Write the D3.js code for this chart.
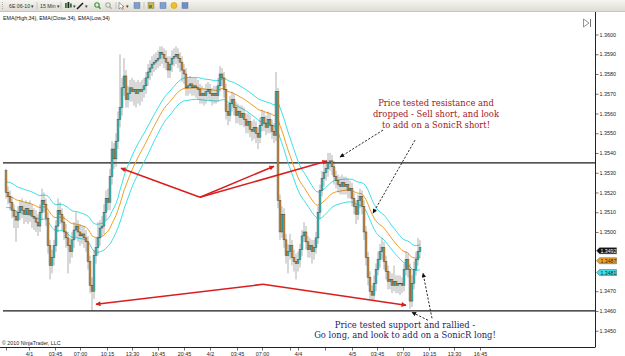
<!DOCTYPE html>
<html>
<head>
<meta charset="utf-8">
<script src="https://cdnjs.cloudflare.com/ajax/libs/d3/7.8.5/d3.min.js"></script>
<style>
    body { margin: 0; background: #fff; }
    svg { display: block; font-family: "Liberation Sans", Arial, sans-serif; }
</style>
</head>
<body>
<svg id="chart" width="625" height="356"></svg>
<script>

// 6E 06-10, 15 min bars. open of bar i is the close of bar i-1
var firstOpen = 1.3531;

var closes = [
    1.3520, 1.3518, 1.3515, 1.3511, 1.3508, 1.3506, 1.3510, 1.3513, 1.3511, 1.3509,
    1.3512, 1.3509, 1.3511, 1.3508, 1.3507, 1.3505, 1.3503, 1.3510, 1.3516, 1.3514,
    1.3507, 1.3493, 1.3483, 1.3487, 1.3493, 1.3503, 1.3511, 1.3509, 1.3505, 1.3500,
    1.3497, 1.3493, 1.3490, 1.3496, 1.3501, 1.3503, 1.3500, 1.3498, 1.3499, 1.3497,
    1.3495, 1.3485, 1.3473, 1.3470, 1.3488, 1.3492, 1.3497, 1.3502, 1.3503, 1.3510,
    1.3517, 1.3515, 1.3528, 1.3542, 1.3537, 1.3546, 1.3557, 1.3563, 1.3573, 1.3579,
    1.3567, 1.3570, 1.3573, 1.3571, 1.3572, 1.3570, 1.3572, 1.3571, 1.3572, 1.3574,
    1.3578, 1.3581, 1.3583, 1.3585, 1.3586, 1.3587, 1.3588, 1.3591, 1.3590, 1.3588,
    1.3586, 1.3582, 1.3585, 1.3588, 1.3589, 1.3590, 1.3588, 1.3586, 1.3582, 1.3580,
    1.3573, 1.3574, 1.3575, 1.3573, 1.3574, 1.3573, 1.3572, 1.3569, 1.3570, 1.3569,
    1.3571, 1.3572, 1.3570, 1.3569, 1.3570, 1.3569, 1.3574, 1.3580, 1.3578, 1.3572,
    1.3561, 1.3559, 1.3565, 1.3567, 1.3563, 1.3559, 1.3561, 1.3558, 1.3560, 1.3557,
    1.3554, 1.3556, 1.3552, 1.3551, 1.3553, 1.3550, 1.3548, 1.3554, 1.3558, 1.3555,
    1.3553, 1.3557, 1.3554, 1.3551, 1.3549, 1.3571, 1.3516, 1.3500, 1.3509, 1.3496,
    1.3488, 1.3490, 1.3493, 1.3487, 1.3485, 1.3484, 1.3486, 1.3491, 1.3498, 1.3500,
    1.3495, 1.3491, 1.3493, 1.3490, 1.3492, 1.3497, 1.3510, 1.3521, 1.3527, 1.3530,
    1.3532, 1.3535, 1.3536, 1.3533, 1.3528, 1.3526, 1.3524, 1.3523, 1.3525, 1.3523,
    1.3524, 1.3521, 1.3522, 1.3517, 1.3513, 1.3509, 1.3516, 1.3518, 1.3513, 1.3500,
    1.3487, 1.3477, 1.3470, 1.3468, 1.3474, 1.3481, 1.3486, 1.3490, 1.3492, 1.3485,
    1.3480, 1.3475, 1.3476, 1.3473, 1.3475, 1.3473, 1.3474, 1.3474, 1.3473, 1.3481,
    1.3486, 1.3481, 1.3465, 1.3474, 1.3481, 1.3486, 1.3490, 1.3492
];

var highs = [
    1.3532, 1.3523, 1.3521, 1.3518, 1.3514, 1.3511, 1.3513, 1.3516, 1.3517, 1.3515,
    1.3516, 1.3515, 1.3516, 1.3514, 1.3512, 1.3511, 1.3509, 1.3514, 1.3522, 1.3520,
    1.3517, 1.3510, 1.3496, 1.3491, 1.3496, 1.3506, 1.3517, 1.3515, 1.3512, 1.3508,
    1.3504, 1.3500, 1.3497, 1.3500, 1.3505, 1.3510, 1.3506, 1.3504, 1.3503, 1.3503,
    1.3501, 1.3498, 1.3488, 1.3477, 1.3491, 1.3497, 1.3505, 1.3506, 1.3508, 1.3514,
    1.3521, 1.3522, 1.3532, 1.3546, 1.3545, 1.3550, 1.3561, 1.3590, 1.3578, 1.3588,
    1.3582, 1.3574, 1.3577, 1.3578, 1.3577, 1.3576, 1.3577, 1.3576, 1.3577, 1.3578,
    1.3581, 1.3585, 1.3587, 1.3589, 1.3590, 1.3591, 1.3592, 1.3594, 1.3594, 1.3593,
    1.3592, 1.3589, 1.3589, 1.3592, 1.3593, 1.3594, 1.3593, 1.3591, 1.3589, 1.3585,
    1.3583, 1.3578, 1.3579, 1.3578, 1.3578, 1.3578, 1.3577, 1.3575, 1.3574, 1.3573,
    1.3575, 1.3576, 1.3575, 1.3573, 1.3574, 1.3574, 1.3578, 1.3584, 1.3583, 1.3581,
    1.3575, 1.3565, 1.3569, 1.3571, 1.3570, 1.3566, 1.3565, 1.3564, 1.3564, 1.3563,
    1.3560, 1.3560, 1.3559, 1.3556, 1.3557, 1.3556, 1.3553, 1.3558, 1.3562, 1.3561,
    1.3559, 1.3561, 1.3560, 1.3557, 1.3555, 1.3581, 1.3573, 1.3519, 1.3513, 1.3512,
    1.3499, 1.3494, 1.3499, 1.3496, 1.3491, 1.3489, 1.3490, 1.3494, 1.3501, 1.3505,
    1.3503, 1.3498, 1.3497, 1.3496, 1.3496, 1.3500, 1.3513, 1.3524, 1.3531, 1.3534,
    1.3536, 1.3540, 1.3540, 1.3539, 1.3536, 1.3531, 1.3529, 1.3528, 1.3529, 1.3528,
    1.3528, 1.3527, 1.3526, 1.3525, 1.3520, 1.3516, 1.3519, 1.3522, 1.3521, 1.3516,
    1.3503, 1.3490, 1.3480, 1.3473, 1.3478, 1.3484, 1.3490, 1.3494, 1.3497, 1.3495,
    1.3488, 1.3483, 1.3480, 1.3479, 1.3483, 1.3478, 1.3478, 1.3478, 1.3477, 1.3484,
    1.3490, 1.3489, 1.3484, 1.3478, 1.3485, 1.3490, 1.3497, 1.3496
];

var lows = [
    1.3517, 1.3514, 1.3511, 1.3507, 1.3502, 1.3495, 1.3502, 1.3506, 1.3507, 1.3504,
    1.3505, 1.3504, 1.3505, 1.3502, 1.3501, 1.3500, 1.3498, 1.3500, 1.3506, 1.3510,
    1.3503, 1.3489, 1.3476, 1.3479, 1.3483, 1.3490, 1.3500, 1.3504, 1.3501, 1.3496,
    1.3492, 1.3479, 1.3484, 1.3487, 1.3492, 1.3497, 1.3495, 1.3493, 1.3494, 1.3492,
    1.3490, 1.3481, 1.3469, 1.3460, 1.3466, 1.3484, 1.3488, 1.3493, 1.3498, 1.3499,
    1.3506, 1.3511, 1.3511, 1.3524, 1.3532, 1.3533, 1.3542, 1.3553, 1.3559, 1.3569,
    1.3563, 1.3563, 1.3566, 1.3566, 1.3564, 1.3563, 1.3565, 1.3564, 1.3566, 1.3568,
    1.3570, 1.3574, 1.3577, 1.3579, 1.3581, 1.3582, 1.3583, 1.3584, 1.3585, 1.3583,
    1.3582, 1.3578, 1.3578, 1.3581, 1.3584, 1.3585, 1.3583, 1.3581, 1.3576, 1.3575,
    1.3569, 1.3569, 1.3570, 1.3569, 1.3569, 1.3568, 1.3567, 1.3565, 1.3565, 1.3564,
    1.3565, 1.3567, 1.3566, 1.3564, 1.3565, 1.3565, 1.3566, 1.3571, 1.3574, 1.3568,
    1.3557, 1.3554, 1.3556, 1.3561, 1.3559, 1.3555, 1.3555, 1.3554, 1.3554, 1.3553,
    1.3550, 1.3550, 1.3548, 1.3546, 1.3547, 1.3545, 1.3542, 1.3545, 1.3551, 1.3551,
    1.3549, 1.3550, 1.3550, 1.3547, 1.3545, 1.3546, 1.3512, 1.3496, 1.3497, 1.3492,
    1.3484, 1.3479, 1.3486, 1.3483, 1.3480, 1.3476, 1.3480, 1.3482, 1.3488, 1.3495,
    1.3491, 1.3487, 1.3487, 1.3484, 1.3486, 1.3489, 1.3494, 1.3507, 1.3518, 1.3523,
    1.3526, 1.3528, 1.3531, 1.3529, 1.3524, 1.3522, 1.3520, 1.3519, 1.3519, 1.3519,
    1.3519, 1.3517, 1.3517, 1.3513, 1.3509, 1.3504, 1.3506, 1.3512, 1.3509, 1.3496,
    1.3483, 1.3473, 1.3466, 1.3465, 1.3465, 1.3470, 1.3478, 1.3482, 1.3486, 1.3481,
    1.3476, 1.3471, 1.3471, 1.3469, 1.3470, 1.3469, 1.3469, 1.3468, 1.3469, 1.3470,
    1.3478, 1.3477, 1.3461, 1.3462, 1.3471, 1.3478, 1.3483, 1.3487
];

// EMA(34) values just before the first visible bar
var emaPeriod = 34;
var emaHighStart = 1.3525;
var emaCloseStart = 1.3518;
var emaLowStart = 1.3512;

// 1.3480 and 1.3490 sit under the price markers
var priceTicks = [1.3450, 1.3460, 1.3470, 1.3500, 1.3510, 1.3520,
    1.3530, 1.3540, 1.3550, 1.3560, 1.3570, 1.3580, 1.3590, 1.3600];

// bar index of each time tick (ticks past the last bar are projected)
var timeTickBars = [0, 11.5, 24.5, 37, 50.5, 63, 76, 89, 102, 115.5, 128, 142, 146, 159.5,
    173, 185.5, 198.5, 211.5, 224, 237];
var timeTickLabels = ["", "4/1", "03:45", "07:00", "10:15", "13:30", "16:45", "20:45", "4/2",
    "03:45", "07:00", "", "4/4", "", "4/5", "03:45", "07:00", "10:15", "13:30", "16:45"];

var resistanceLevel = 1.3535;
var supportLevel = 1.3460;

// annotation arrows, [bar, price] -> [bar, price]
var redArrows = [
    [[97, 1.35176], [57.5, 1.35323]],
    [[97, 1.35176], [134, 1.35333]],
    [[97, 1.35176], [160.5, 1.35359]],
    [[128.5, 1.34735], [45, 1.34634]],
    [[128.5, 1.34735], [200, 1.34629]]
];
var dashedArrows = [
    [[188.5, 1.35516], [167, 1.35379]],
    [[204.5, 1.35465], [183.5, 1.35095]],
    [[213, 1.34563], [208.5, 1.34791]],
    [[211, 1.34553], [203, 1.34593]]
];

var shortNote = ["Price tested resistance and", "dropped - Sell short, and look", "to add on a SonicR short!"];
var longNote = ["Price tested support and rallied -", "Go long, and look to add on a SonicR long!"];


function SonicChart(svgId) {

    var self = this;

    self.svg = d3.select(svgId);

    self.plot = {left: 3, right: 595, top: 12, bottom: 347};

    self.x = d3.scaleLinear()
        .domain([0, closes.length - 1])
        .range([6, 420]);

    self.y = d3.scaleLinear()
        .domain([1.3450, 1.3600])
        .range([330.7, 34.5]);

    self.colors = {
        up: "#3ccccc", down: "#d8973a", outline: "#2a2a2a",
        emaBand: "#3fe0e6", emaMid: "#f0a028",
        red: "#d91e1e", note1: "#a3161b", note2: "#23236b"
    };

    self.bars = closes.map(function (c, i) {
        return {
            i: i,
            open: i === 0 ? firstOpen : closes[i - 1],
            close: c,
            high: highs[i],
            low: lows[i]
        };
    });

    self.emaHigh = self.ema(highs, emaHighStart);
    self.emaClose = self.ema(closes, emaCloseStart);
    self.emaLow = self.ema(lows, emaLowStart);
}


SonicChart.prototype.ema = function (values, start) {
    var k = 2 / (emaPeriod + 1);
    var prev = start;
    return values.map(function (v) {
        prev = prev + k * (v - prev);
        return prev;
    });
};


SonicChart.prototype.drawToolbar = function () {

    var self = this;
    var bar = self.svg.append("g");

    var grad = self.svg.append("defs").append("linearGradient")
        .attr("id", "tb").attr("x1", 0).attr("x2", 0).attr("y1", 0).attr("y2", 1);
    grad.append("stop").attr("offset", 0).attr("stop-color", "#f6f5f1");
    grad.append("stop").attr("offset", 1).attr("stop-color", "#dedcd3");

    bar.append("rect")
        .attr("x", 0).attr("y", 0).attr("width", 625).attr("height", 11)
        .attr("fill", "url(#tb)");
    bar.append("line")
        .attr("x1", 0).attr("x2", 625).attr("y1", 11.5).attr("y2", 11.5)
        .attr("stroke", "#c9c7bd");

    // grip
    [2, 4, 6, 8].forEach(function (d) {
        bar.append("rect").attr("x", 2).attr("y", d).attr("width", 0.8).attr("height", 0.8).attr("fill", "#888");
    });

    var labels = [
        {x: 9, t: "6E 06-10  \u25BE"},
        {x: 40, t: "15 Min  \u25BE"}
    ];
    bar.selectAll("text.tb").data(labels).enter()
        .append("text").attr("class", "tb")
        .attr("x", function (d) { return d.x; })
        .attr("y", 7.8)
        .attr("font-size", 5.2)
        .attr("fill", "#333")
        .text(function (d) { return d.t; });

    [37, 61, 116, 144].forEach(function (sx) {
        bar.append("line").attr("x1", sx).attr("x2", sx).attr("y1", 2).attr("y2", 9)
            .attr("stroke", "#b9b7ae").attr("stroke-width", 0.7);
    });

    // candle icon
    [[65, 3, 5, "#2b7a2b"], [67.5, 2, 6, "#222"], [70, 3.5, 4, "#2b7a2b"]].forEach(function (d) {
        bar.append("rect").attr("x", d[0]).attr("y", d[1]).attr("width", 1.8).attr("height", d[2]).attr("fill", d[3]);
    });
    bar.append("text").attr("x", 73).attr("y", 7.8).attr("font-size", 4.5).attr("fill", "#333").text("\u25BE");

    // pencil
    bar.append("line").attr("x1", 77).attr("y1", 9).attr("x2", 83).attr("y2", 3)
        .attr("stroke", "#222").attr("stroke-width", 1.6);
    bar.append("text").attr("x", 84.5).attr("y", 7.8).attr("font-size", 4.5).attr("fill", "#333").text("\u25BE");

    // zoom in / out
    [[97, "#3a9a3a"], [108, "#a8a8a8"]].forEach(function (d) {
        bar.append("circle").attr("cx", d[0]).attr("cy", 5).attr("r", 2.2)
            .attr("fill", "none").attr("stroke", d[1]).attr("stroke-width", 1.1);
        bar.append("line").attr("x1", d[0] + 1.5).attr("y1", 6.5).attr("x2", d[0] + 3.5).attr("y2", 8.8)
            .attr("stroke", d[1]).attr("stroke-width", 1.3);
    });

    // pointer
    bar.append("path").attr("d", "M119,2.5 L119,9 L120.8,7.5 L122.5,9.5 L123.3,9 L122,7 L124,6.8 Z")
        .attr("fill", "#fff").attr("stroke", "#444").attr("stroke-width", 0.5);
    bar.append("text").attr("x", 125.5).attr("y", 7.8).attr("font-size", 4.5).attr("fill", "#333").text("\u25BE");

    var icons = [[134, "#7d9fd0"], [148, "#d8b43a"], [160, "#7aa0d8"], [182, "#6f8fc8"]];
    icons.forEach(function (d) {
        bar.append("rect").attr("x", d[0]).attr("y", 2.5).attr("width", 6).attr("height", 6)
            .attr("fill", d[1]).attr("stroke", "#5a6a90").attr("stroke-width", 0.4);
    });
    bar.append("rect").attr("x", 149).attr("y", 5).attr("width", 3).attr("height", 3).attr("fill", "#3f9a3f");
    bar.append("circle").attr("cx", 174).attr("cy", 5.5).attr("r", 3).attr("fill", "#f2c21c").attr("stroke", "#c08a10").attr("stroke-width", 0.5);
};


SonicChart.prototype.drawAxes = function () {

    var self = this;
    var p = self.plot;
    var g = self.svg.append("g");

    g.append("line")
        .attr("x1", p.right + 0.5).attr("x2", p.right + 0.5)
        .attr("y1", p.top).attr("y2", p.bottom)
        .attr("stroke", "#222");
    g.append("line")
        .attr("x1", 0).attr("x2", p.right + 0.5)
        .attr("y1", p.bottom + 0.5).attr("y2", p.bottom + 0.5)
        .attr("stroke", "#222");

    // price axis
    var yAxis = d3.axisRight(self.y)
        .tickValues(priceTicks)
        .tickSize(3)
        .tickPadding(1)
        .tickFormat(d3.format(".4f"));

    var ya = g.append("g")
        .attr("transform", "translate(" + (p.right + 0.5) + ",0)")
        .call(yAxis);
    ya.select(".domain").remove();
    ya.selectAll("line").attr("stroke", "#333").attr("stroke-width", 0.7);
    ya.selectAll("text")
        .attr("font-size", 5.4)
        .attr("font-family", "Liberation Sans, Arial, sans-serif")
        .attr("fill", "#222");

    // time axis
    var xAxis = d3.axisBottom(self.x)
        .tickValues(timeTickBars)
        .tickSize(3)
        .tickPadding(1.5)
        .tickFormat(function (d, i) { return timeTickLabels[i]; });

    var xa = g.append("g")
        .attr("transform", "translate(0," + (p.bottom + 0.5) + ")")
        .call(xAxis);
    xa.select(".domain").remove();
    xa.selectAll("line").attr("stroke", "#333").attr("stroke-width", 0.7);
    xa.selectAll("text")
        .attr("font-size", 5.4)
        .attr("font-family", "Liberation Sans, Arial, sans-serif")
        .attr("fill", "#222");

    // indicator caption + copyright
    g.append("text")
        .attr("x", 3).attr("y", 19.5)
        .attr("font-size", 5.3)
        .attr("fill", "#111")
        .text("EMA(High,34), EMA(Close,34), EMA(Low,34)");

    g.append("text")
        .attr("x", 2).attr("y", 345)
        .attr("font-size", 5.3)
        .attr("fill", "#222")
        .text("\u00A9 2010 NinjaTrader, LLC");

    // scroll to end button
    g.append("path")
        .attr("d", "M583.5,19 L583.5,27 L589,23 Z")
        .attr("fill", "none").attr("stroke", "#666").attr("stroke-width", 0.7);
    g.append("line")
        .attr("x1", 590.5).attr("x2", 590.5).attr("y1", 19).attr("y2", 27)
        .attr("stroke", "#666").attr("stroke-width", 0.9);
};


SonicChart.prototype.drawLevels = function () {

    var self = this;
    var p = self.plot;

    self.svg.append("g")
        .selectAll("line")
        .data([resistanceLevel, supportLevel])
        .enter()
        .append("line")
        .attr("x1", p.left)
        .attr("x2", p.right)
        .attr("y1", function (d) { return self.y(d); })
        .attr("y2", function (d) { return self.y(d); })
        .attr("stroke", "#1a1a1a")
        .attr("stroke-width", 1.3);
};


SonicChart.prototype.drawEma = function () {

    var self = this;

    var line = d3.line()
        .x(function (d, i) { return self.x(i); })
        .y(function (d) { return self.y(d); });

    var series = [
        {values: self.emaHigh, color: self.colors.emaBand},
        {values: self.emaLow, color: self.colors.emaBand},
        {values: self.emaClose, color: self.colors.emaMid}
    ];

    self.svg.append("g")
        .selectAll("path")
        .data(series)
        .enter()
        .append("path")
        .attr("d", function (d) { return line(d.values); })
        .attr("fill", "none")
        .attr("stroke", function (d) { return d.color; })
        .attr("stroke-width", 1);
};


SonicChart.prototype.drawCandles = function () {

    var self = this;
    var bodyWidth = 1.9;

    var g = self.svg.append("g");

    var candle = g.selectAll("g")
        .data(self.bars)
        .enter()
        .append("g");

    candle.append("line")
        .attr("x1", function (d) { return self.x(d.i); })
        .attr("x2", function (d) { return self.x(d.i); })
        .attr("y1", function (d) { return self.y(d.high); })
        .attr("y2", function (d) { return self.y(d.low); })
        .attr("stroke", "#505050")
        .attr("stroke-width", 0.45);

    candle.append("rect")
        .attr("x", function (d) { return self.x(d.i) - bodyWidth / 2; })
        .attr("width", bodyWidth)
        .attr("y", function (d) { return self.y(Math.max(d.open, d.close)); })
        .attr("height", function (d) {
            return Math.max(0.6, Math.abs(self.y(d.open) - self.y(d.close)));
        })
        .attr("fill", function (d) {
            return d.close >= d.open ? self.colors.up : self.colors.down;
        })
        .attr("stroke", self.colors.outline)
        .attr("stroke-width", 0.4);
};


SonicChart.prototype.drawAnnotations = function () {

    var self = this;
    var defs = self.svg.append("defs");

    var heads = [["headRed", self.colors.red, 7, 5], ["headBlack", "#111", 6, 4.5]];
    heads.forEach(function (h) {
        defs.append("marker")
            .attr("id", h[0])
            .attr("viewBox", "0 0 10 10")
            .attr("refX", 9).attr("refY", 5)
            .attr("markerUnits", "userSpaceOnUse")
            .attr("markerWidth", h[2]).attr("markerHeight", h[3])
            .attr("orient", "auto")
            .append("path")
            .attr("d", "M0,0 L10,5 L0,10 Z")
            .attr("fill", h[1]);
    });

    var g = self.svg.append("g");

    g.selectAll("line.red")
        .data(redArrows)
        .enter()
        .append("line")
        .attr("class", "red")
        .attr("x1", function (d) { return self.x(d[0][0]); })
        .attr("y1", function (d) { return self.y(d[0][1]); })
        .attr("x2", function (d) { return self.x(d[1][0]); })
        .attr("y2", function (d) { return self.y(d[1][1]); })
        .attr("stroke", self.colors.red)
        .attr("stroke-width", 1.5)
        .attr("marker-end", "url(#headRed)");

    g.selectAll("line.dash")
        .data(dashedArrows)
        .enter()
        .append("line")
        .attr("class", "dash")
        .attr("x1", function (d) { return self.x(d[0][0]); })
        .attr("y1", function (d) { return self.y(d[0][1]); })
        .attr("x2", function (d) { return self.x(d[1][0]); })
        .attr("y2", function (d) { return self.y(d[1][1]); })
        .attr("stroke", "#111")
        .attr("stroke-width", 0.9)
        .attr("stroke-dasharray", "2.2,1.6")
        .attr("marker-end", "url(#headBlack)");

    // notes
    g.selectAll("text.short")
        .data(shortNote)
        .enter()
        .append("text")
        .attr("class", "short")
        .attr("x", self.x(215))
        .attr("y", function (d, i) { return self.y(1.35640) + i * 11; })
        .attr("text-anchor", "middle")
        .attr("font-family", "DejaVu Serif, serif")
        .attr("font-size", 8.4)
        .attr("fill", self.colors.note1)
        .text(function (d) { return d; });

    g.selectAll("text.long")
        .data(longNote)
        .enter()
        .append("text")
        .attr("class", "long")
        .attr("x", self.x(199.5))
        .attr("y", function (d, i) { return self.y(1.34515) + i * 10.5; })
        .attr("text-anchor", "middle")
        .attr("font-family", "DejaVu Serif, serif")
        .attr("font-size", 8.4)
        .attr("fill", self.colors.note2)
        .text(function (d) { return d; });
};


SonicChart.prototype.drawTags = function () {

    var self = this;
    var n = closes.length - 1;
    var x0 = self.plot.right + 1.5;

    var tags = [
        {value: closes[n], fill: "#111", text: "#fff"},
        {value: self.emaClose[n], fill: self.colors.emaMid, text: "#222"},
        {value: self.emaLow[n], fill: self.colors.emaBand, text: "#123"}
    ];

    // keep the tags from overlapping, like the platform does
    var prev = -Infinity;
    tags.forEach(function (t) {
        t.y = Math.max(self.y(t.value) + 3, prev + 10);
        prev = t.y;
    });

    var tag = self.svg.append("g")
        .selectAll("g")
        .data(tags)
        .enter()
        .append("g")
        .attr("transform", function (d) { return "translate(" + x0 + "," + d.y + ")"; });

    tag.append("path")
        .attr("d", "M0,0 L3,-3 L20,-3 L20,3 L3,3 Z")
        .attr("fill", function (d) { return d.fill; })
        .attr("stroke", "#333")
        .attr("stroke-width", 0.4);

    tag.append("text")
        .attr("x", 4)
        .attr("y", 2)
        .attr("font-size", 5.2)
        .attr("fill", function (d) { return d.text; })
        .text(function (d) { return d3.format(".4f")(d.value); });
};


var chart = new SonicChart("#chart");
chart.drawToolbar();
chart.drawAxes();
chart.drawLevels();
chart.drawEma();
chart.drawCandles();
chart.drawAnnotations();
chart.drawTags();

</script>
</body>
</html>
